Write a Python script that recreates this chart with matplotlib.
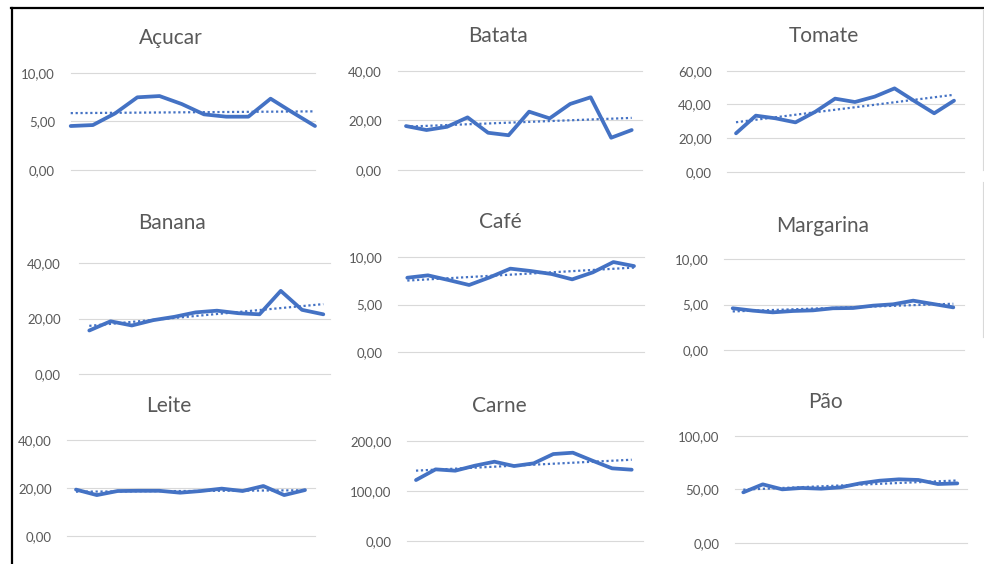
import numpy as np
import matplotlib
matplotlib.use("Agg")
import matplotlib.pyplot as plt
from matplotlib.lines import Line2D

plt.rcParams['font.family'] = ['Lato', 'DejaVu Sans']

W, H = 984, 564
AZUL = '#4472C4'
CINZA = '#595959'
GRADE = '#D9D9D9'

# Preços mensais (12 meses) de cada produto
meses = list(range(12))
acucar = [4.52, 4.62, 5.82, 7.47, 7.60, 6.78, 5.72, 5.48, 5.48, 7.33, 5.90, 4.52]
batata = [17.7, 16.1, 17.4, 21.2, 15.0, 14.0, 23.5, 20.8, 26.6, 29.3, 13.0, 16.1]
tomate = [22.8, 33.3, 31.7, 29.3, 35.6, 43.4, 41.4, 44.6, 49.5, 42.0, 34.7, 42.2]
banana = [15.7, 19.0, 17.5, 19.4, 20.6, 22.2, 22.8, 21.9, 21.5, 29.9, 23.1, 21.5]
cafe = [7.80, 8.05, 7.56, 7.04, 7.84, 8.75, 8.50, 8.19, 7.63, 8.36, 9.44, 9.02]
margarina = [4.60, 4.34, 4.15, 4.30, 4.37, 4.60, 4.63, 4.89, 5.04, 5.44, 5.07, 4.70]
leite = [19.4, 17.1, 18.8, 18.9, 18.9, 18.1, 18.8, 19.8, 18.8, 20.9, 17.1, 19.2]
carne = [121.3, 142.7, 140.0, 150.0, 158.0, 149.3, 154.7, 173.3, 176.0, 160.0, 144.7, 142.0]
pao = [47.2, 54.7, 50.0, 51.3, 50.6, 51.9, 55.6, 58.1, 59.4, 58.8, 55.0, 55.6]

titulos = ['Açucar', 'Batata', 'Tomate', 'Banana', 'Café', 'Margarina', 'Leite', 'Carne', 'Pão']
series = [acucar, batata, tomate, banana, cafe, margarina, leite, carne, pao]
topos = [10, 40, 60, 40, 10, 10, 40, 200, 100]
passos = [5, 20, 20, 20, 5, 5, 20, 100, 50]

# posição de cada gráfico em pixels:
# grade x0, x1 / 1º e último ponto / y do topo e do zero / borda dos rótulos / título
layout = [
    (70.7, 315.0, 70.7, 315.0, 72.7, 170.0, 55.0, 170.7, 44.0),
    (397.7, 641.7, 406.0, 631.7, 70.7, 170.0, 381.7, 498.0, 42.3),
    (726.7, 964.0, 736.0, 954.0, 70.7, 171.7, 711.7, 824.2, 42.3),
    (79.0, 330.0, 89.3, 323.3, 262.7, 374.3, 61.0, 172.2, 229.3),
    (398.3, 644.0, 407.3, 634.0, 256.7, 352.3, 382.7, 500.0, 228.3),
    (724.0, 964.0, 732.7, 953.3, 259.3, 350.0, 708.3, 822.5, 231.7),
    (66.7, 315.0, 76.0, 305.0, 440.3, 536.0, 51.7, 169.2, 412.3),
    (407.0, 643.3, 416.0, 631.7, 440.7, 540.7, 391.7, 499.2, 411.7),
    (735.0, 966.7, 743.3, 957.3, 436.0, 542.7, 719.3, 825.0, 408.3),
]

fig = plt.figure(figsize=(W / 100, H / 100), dpi=100)
fig.patch.set_facecolor('white')


def fmt(v):
    return f'{v:.2f}'.replace('.', ',')


for titulo, y, topo, passo, (gx0, gx1, px0, px1, ytop, ybot, lab, tx, ty) in zip(
        titulos, series, topos, passos, layout):
    ax = fig.add_axes([gx0 / W, 1 - ybot / H, (gx1 - gx0) / W, (ybot - ytop) / H])
    s = (px1 - px0) / 11
    ax.set_xlim((gx0 - px0) / s, 11 + (gx1 - px1) / s)
    ax.set_ylim(0, topo)
    ticks = np.arange(0, topo + passo / 2, passo)
    ax.set_yticks(ticks)
    ax.set_yticklabels([fmt(t) for t in ticks])
    ax.set_xticks([])
    for sp in ax.spines.values():
        sp.set_visible(False)
    ax.tick_params(axis='y', length=0, labelsize=9.5, labelcolor=CINZA,
                   pad=(gx0 - lab) * 0.72)
    for t in ticks:
        ax.axhline(t, color=GRADE, lw=0.8, zorder=0, clip_on=False)

    ax.plot(meses, y, color=AZUL, lw=2.7, solid_joinstyle='round',
            solid_capstyle='round', zorder=2, clip_on=False)
    # linha de tendência linear
    a, b = np.polyfit(meses, y, 1)
    xs = np.array([0, 11])
    ax.plot(xs, a * xs + b, color=AZUL, lw=1.6, linestyle=(0, (1, 1.2)),
            zorder=3, clip_on=False)

    fig.text(tx / W, 1 - ty / H, titulo, ha='center', va='baseline',
             fontsize=15, color=CINZA)

# moldura do recorte
fig.add_artist(Line2D([11 / W, 1], [1 - 8.3 / H, 1 - 8.3 / H], color='black', lw=1.6))
fig.add_artist(Line2D([11.7 / W, 11.7 / W], [0, 1 - 8.3 / H], color='black', lw=1.6))
fig.add_artist(Line2D([983 / W, 983 / W], [1 - 10 / H, 1 - 170 / H], color=GRADE, lw=0.8))
fig.add_artist(Line2D([983 / W, 983 / W], [1 - 182 / H, 1 - 337 / H], color=GRADE, lw=0.8))

fig.savefig('out.png', dpi=100)
